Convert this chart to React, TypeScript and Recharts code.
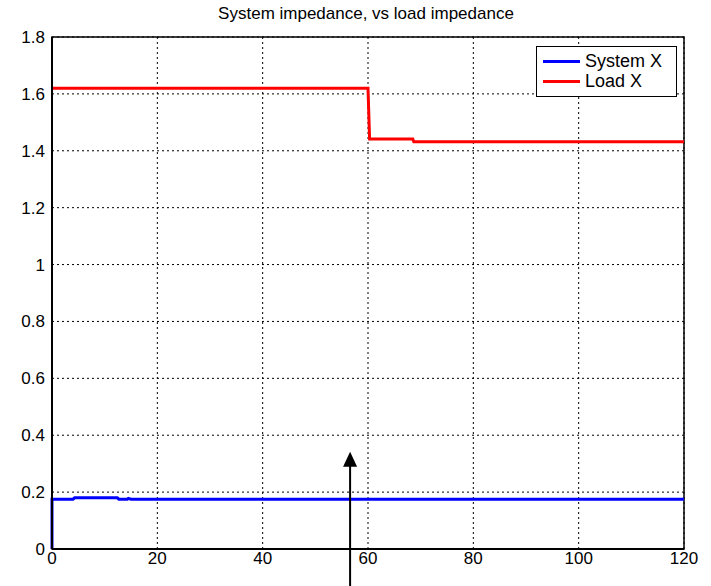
import React from 'react';
import { LineChart, Line, XAxis, YAxis, CartesianGrid, Legend, ReferenceLine, ReferenceArea } from 'recharts';

// System X (blue): starts at 0, jumps to ~0.175, small bump early on
const systemT = [0, 0, 4, 4.3, 12.4, 12.7, 14.3, 14.5, 15, 120];
const systemX = [0, 0.175, 0.175, 0.18, 0.18, 0.175, 0.175, 0.178, 0.175, 0.175];

// Load X (red): step down at t = 60
const loadT = [0, 60, 60.3, 68.5, 68.7, 120];
const loadX = [1.62, 1.62, 1.441, 1.441, 1.432, 1.432];

const xTicks = [0, 20, 40, 60, 80, 100, 120];
const yTicks = [0, 0.2, 0.4, 0.6, 0.8, 1, 1.2, 1.4, 1.6, 1.8];

// annotation arrow (data coords)
const arrowX = 56.6;
const arrowFrom = -0.13;
const arrowTo = 0.342;

const systemData = systemT.map((t, i) => ({ t, v: systemX[i] }));
const loadData = loadT.map((t, i) => ({ t, v: loadX[i] }));

const font = 'Arial, "Liberation Sans", Helvetica, sans-serif';

const LegendBox = () => (
    <div style={{ border: '1px solid #000', background: '#fff', padding: '4px 0 5px 6px', fontFamily: font, fontSize: 18, lineHeight: '20px' }}>
        {[{ name: 'System X', color: '#0000ff' }, { name: 'Load X', color: '#ff0000' }].map(item => (
            <div key={item.name} style={{ display: 'flex', alignItems: 'center' }}>
                <span style={{ display: 'inline-block', width: 37, height: 3, background: item.color, marginRight: 5 }}></span>
                <span>{item.name}</span>
            </div>
        ))}
    </div>
);

const Arrow = (props: any) => {
    const { x1, y1, x2, y2 } = props;
    const top = Math.min(y1, y2);
    const bottom = Math.max(y1, y2);
    return (
        <g>
            <line x1={x1} x2={x2} y1={top + 12} y2={bottom} stroke="#000" strokeWidth={2} />
            <polygon points={`${x1},${top} ${x1 - 7},${top + 15} ${x1 + 7},${top + 15}`} fill="#000" />
        </g>
    );
};

export default function App() {
    return (
        <div style={{ position: 'absolute', left: 0, top: 0, width: 711, height: 586, background: '#fff' }}>
            <div style={{ position: 'absolute', left: 0, width: 732, top: 4, textAlign: 'center', fontFamily: font, fontSize: 17 }}>
                System impedance, vs load impedance
            </div>
            <LineChart width={711} height={586} margin={{ top: 37, right: 27, left: 0, bottom: 0 }}>
                <CartesianGrid stroke="#000" strokeDasharray="2 3" strokeWidth={1} horizontalValues={yTicks} verticalValues={xTicks} />
                <XAxis
                    dataKey="t"
                    type="number"
                    domain={[0, 120]}
                    ticks={xTicks}
                    allowDuplicatedCategory={false}
                    height={37}
                    tickLine={false}
                    tickSize={2}
                    tickMargin={1}
                    axisLine={{ stroke: '#000', strokeWidth: 2 }}
                    tick={{ fill: '#000', fontSize: 17, fontFamily: font }}
                />
                <YAxis
                    type="number"
                    domain={[0, 1.8]}
                    ticks={yTicks}
                    width={52}
                    tickLine={false}
                    tickSize={5}
                    tickMargin={2}
                    axisLine={{ stroke: '#000', strokeWidth: 2 }}
                    tickFormatter={(v: number) => String(+v.toFixed(1))}
                    tick={{ fill: '#000', fontSize: 17, fontFamily: font }}
                />
                <ReferenceArea x1={0} x2={120} y1={0} y2={1.8} fill="none" fillOpacity={0} stroke="#000" strokeWidth={1.5} />
                <Line data={systemData} dataKey="v" name="System X" type="linear" stroke="#0000ff" strokeWidth={3} dot={false} isAnimationActive={false} />
                <Line data={loadData} dataKey="v" name="Load X" type="linear" stroke="#ff0000" strokeWidth={3} dot={false} isAnimationActive={false} />
                <ReferenceLine
                    segment={[{ x: arrowX, y: arrowFrom }, { x: arrowX, y: arrowTo }]}
                    ifOverflow="visible"
                    shape={Arrow}
                />
                <Legend
                    layout="horizontal"
                    verticalAlign="middle"
                    align="center"
                    content={<LegendBox />}
                    wrapperStyle={{ position: 'absolute', left: 536, top: 46, width: 141 }}
                />
            </LineChart>
        </div>
    );
}
